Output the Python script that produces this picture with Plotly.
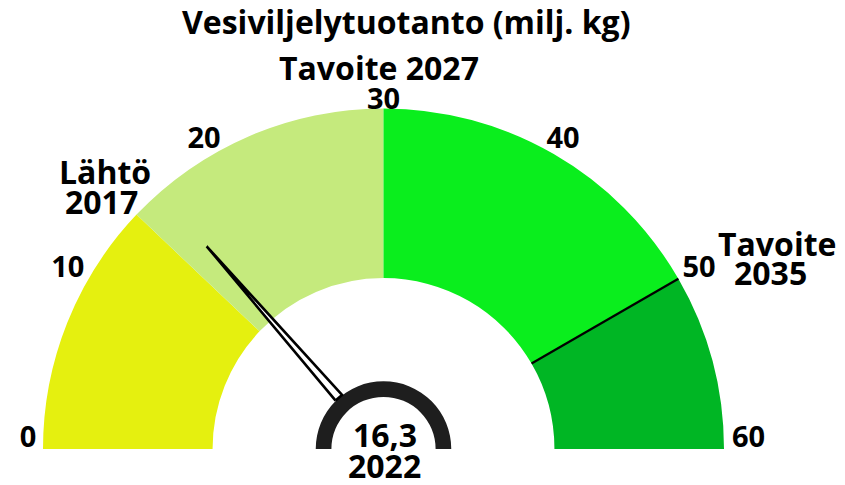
import math
import plotly.graph_objects as go

# Gauge data (million kg)
band_edges = [0, 14.5, 30, 50, 60]
band_colors = ["#e5f00f", "#c5ea7d", "#0aee1d", "#00b624"]
tick_values = [0, 10, 20, 30, 40, 50, 60]
tick_labels = ["0", "10", "20", "30", "40", "50", "60"]
current_value = 16.3
current_year = "2022"
target_2035 = 50

FONT = "Open Sans"
W, H = 845, 485
DEG_PER_UNIT = 180 / 60  # 0..60 spans the half circle

# Geometry: gauge centre / outer radius in pixels, radial headroom for labels
CX, CY, R_PX = 383.5, 449, 340.5
R_MAX = 1.12


def deg(v):
    return v * DEG_PER_UNIT


fig = go.Figure()

# Coloured bands
for lo, hi, col in zip(band_edges[:-1], band_edges[1:], band_colors):
    fig.add_trace(go.Barpolar(
        theta=[deg((lo + hi) / 2)], width=[deg(hi - lo)],
        base=[0.502], r=[0.498],
        marker=dict(color=col, line=dict(width=0)),
        hoverinfo="skip", showlegend=False,
    ))

# Dark hub arc around the value label
fig.add_trace(go.Barpolar(
    theta=[90], width=[180], base=[0.153], r=[0.046],
    marker=dict(color="#1e1e1e", line=dict(width=0)),
    hoverinfo="skip", showlegend=False,
))

# Target line at 50
fig.add_trace(go.Scatterpolar(
    r=[0.502, 1.0], theta=[deg(target_2035)] * 2, mode="lines",
    line=dict(color="black", width=2.2), hoverinfo="skip", showlegend=False,
))

# Needle (thin outlined wedge)
half = 3.6
th = deg(current_value)
fig.add_trace(go.Scatterpolar(
    r=[0.2, 0.79, 0.2, 0.2], theta=[th - half, th, th + half, th - half],
    mode="lines", fill="toself", fillcolor="white",
    line=dict(color="black", width=2.6), hoverinfo="skip", showlegend=False,
))

# Scale labels: each label box sits just outside the rim, so its centre
# radius grows with the box extent along the label's direction.  The end
# labels are raised a little off the baseline.
GAP_PX, CHAR_W, TXT_H = 346, 19, 8
NUDGE_DOWN, END_LIFT = 3, 12
label_r, label_t = [], []
for v, t in zip(tick_values, tick_labels):
    a = math.radians(deg(v))
    ext = 0.5 * CHAR_W * len(t) * abs(math.cos(a)) + 0.5 * TXT_H * abs(math.sin(a))
    rr = GAP_PX + ext
    # screen-style offsets: x along the horizontal, y upward
    x = -rr * math.cos(a)
    y = rr * math.sin(a) - NUDGE_DOWN
    if v in (tick_values[0], tick_values[-1]):
        y += END_LIFT
    label_r.append(math.hypot(x, y) / R_PX)
    label_t.append(math.degrees(math.atan2(y, -x)))
fig.add_trace(go.Scatterpolar(
    r=label_r, theta=label_t,
    mode="text", text=tick_labels, textposition="middle center", cliponaxis=False,
    textfont=dict(family=FONT, size=29, color="black", weight="bold"),
    hoverinfo="skip", showlegend=False,
))

rp = R_PX * R_MAX
fig.update_layout(
    width=W, height=H,
    margin=dict(l=0, r=0, t=0, b=0),
    paper_bgcolor="white",
    polar=dict(
        domain=dict(x=[(CX - rp) / W, (CX + rp) / W],
                    y=[(H - CY) / H, (H - CY + rp) / H]),
        sector=[0, 180],
        bgcolor="rgba(0,0,0,0)",
        radialaxis=dict(visible=False, range=[0, R_MAX]),
        angularaxis=dict(visible=False, rotation=180, direction="clockwise",
                         thetaunit="degrees"),
    ),
)


def note(text, x, y, size=32):
    fig.add_annotation(
        text=text, x=x / W, y=1 - y / H, xref="paper", yref="paper",
        xanchor="center", yanchor="middle", showarrow=False,
        font=dict(family=FONT, size=size, color="black", weight="bold"),
    )


note("Vesiviljelytuotanto (milj. kg)", 406, 22)
note("Tavoite 2027", 379, 68)
note("Lähtö", 105, 171)
note("2017", 101, 201)
note("Tavoite", 777, 243)
note("2035", 770, 272)
note(f"{current_value:.1f}".replace(".", ","), 385, 434)
note(current_year, 384, 465)

fig.write_html("out.html")
